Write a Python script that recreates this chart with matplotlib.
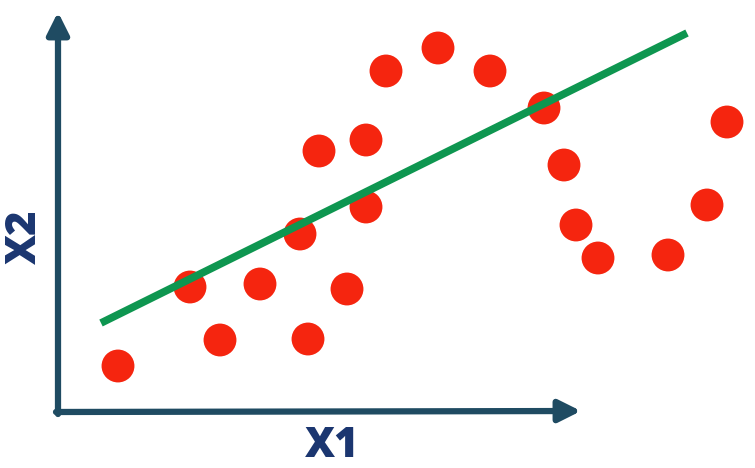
import matplotlib.pyplot as plt
from matplotlib.patches import FancyArrowPatch

# point positions (y grows downward like the image)
x1 = [118, 190, 220, 260, 300, 308, 319, 347, 366, 366,
      386, 438, 490, 544, 564, 576, 598, 668, 707, 727]
x2 = [366, 287, 340, 284, 234, 339, 151, 289, 140, 207,
      71, 48, 71, 108, 165, 225, 258, 255, 205, 122]

# fitted line end points
line_x = [101, 687]
line_y = [323, 33]

fig = plt.figure(figsize=(7.55, 4.68), dpi=100)
ax = fig.add_axes([0, 0, 1, 1])
ax.set_xlim(0, 755)
ax.set_ylim(468, 0)
ax.axis('off')

axis_col = '#1F4B62'
# y axis arrow
ax.add_patch(FancyArrowPatch((58, 414), (58, 12), arrowstyle='-|>,head_length=6,head_width=3',
                             mutation_scale=2.2, lw=4.5, color=axis_col, shrinkA=0, shrinkB=0))
# x axis arrow
ax.add_patch(FancyArrowPatch((56, 412), (581, 411), arrowstyle='-|>,head_length=6,head_width=3',
                             mutation_scale=2.2, lw=4.5, color=axis_col, shrinkA=0, shrinkB=0))

ax.scatter(x1, x2, s=560, color='#F5250F', edgecolors='none', zorder=3)
ax.plot(line_x, line_y, color='#0E9650', lw=5.5, solid_capstyle='butt', zorder=4)

ax.text(332, 446, 'X1', fontsize=30, fontweight='heavy', color='#1B3670',
        family=['Open Sans', 'DejaVu Sans'], ha='center', va='center')
ax.text(25, 237, 'X2', fontsize=30, fontweight='heavy', color='#1B3670', rotation=90,
        family=['Open Sans', 'DejaVu Sans'], ha='center', va='center')

fig.savefig('out.png', dpi=100)
